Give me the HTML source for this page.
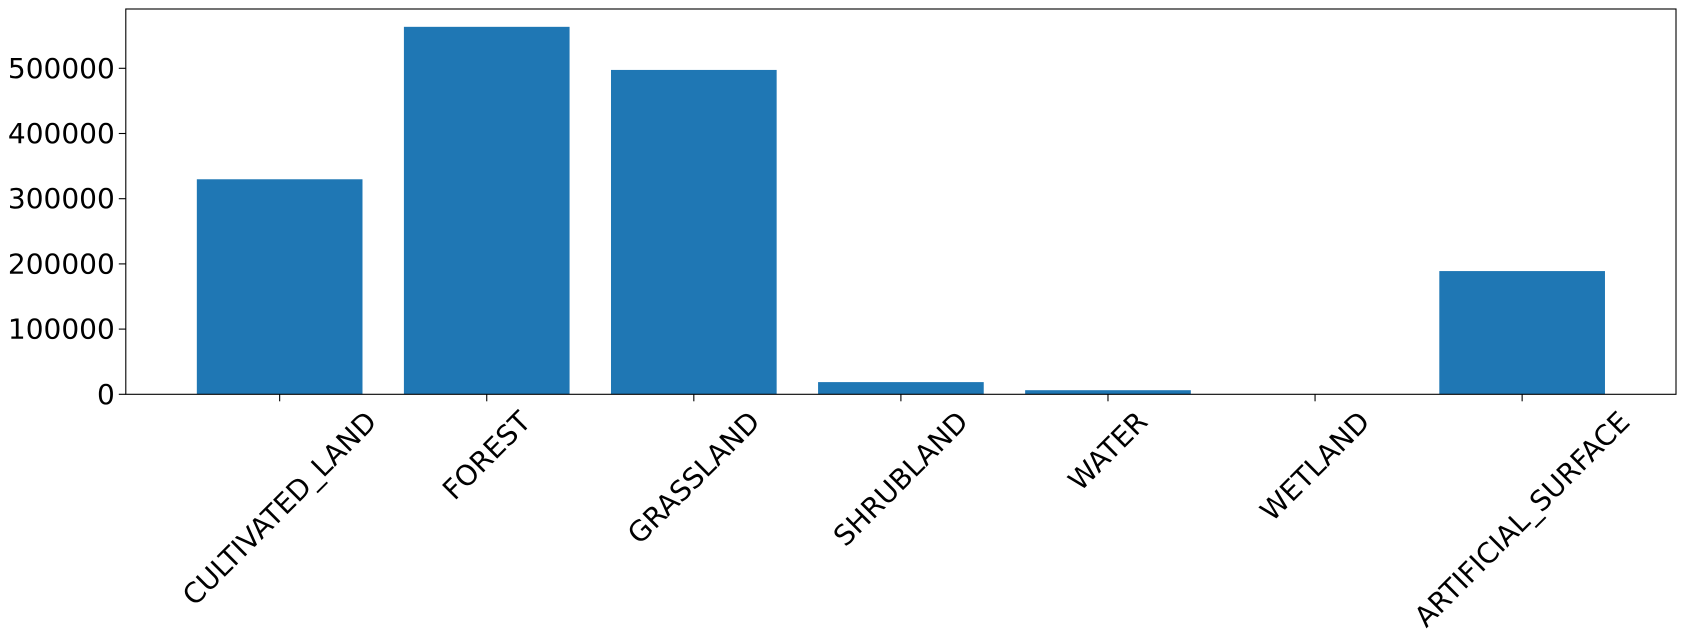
<!DOCTYPE html>
<html><head><meta charset="utf-8"><style>
html,body{margin:0;padding:0;background:#fff;}
svg{display:block;font-family:"DejaVu Sans","Liberation Sans",sans-serif;}
</style></head><body>
<svg id="chart" width="1686" height="637" viewBox="0 0 1686 637" xmlns="http://www.w3.org/2000/svg">
<g id="bars"></g>
<g id="yaxis"></g>
<g id="xaxis"></g>
<rect x="125.8" y="9" width="1550.2" height="385.3" fill="none" stroke="#000" stroke-width="1.1"/>
</svg>
<script>
const categories = ["CULTIVATED_LAND","FOREST","GRASSLAND","SHRUBLAND","WATER","WETLAND","ARTIFICIAL_SURFACE"];
const values = [329800, 563600, 497500, 18700, 6300, 300, 189000];
const yTicks = [0, 100000, 200000, 300000, 400000, 500000];
const yTickLabels = ["0","100000","200000","300000","400000","500000"];

const NS = "http://www.w3.org/2000/svg";
const L = 125.8, R = 1676, T = 9, B = 394.3;
const xMin = -0.743, xMax = 6.743;
const yPerUnit = 326 / 500000;
function xs(i){ return L + (i - xMin) / (xMax - xMin) * (R - L); }
function ys(v){ return B - v * yPerUnit; }
const bw = 0.8 * (xs(1) - xs(0));

const gb = document.getElementById('bars');
categories.forEach((c, i) => {
  const r = document.createElementNS(NS, 'rect');
  r.setAttribute('x', xs(i) - bw / 2);
  r.setAttribute('y', ys(values[i]));
  r.setAttribute('width', bw);
  r.setAttribute('height', Math.max(0, B - ys(values[i])));
  r.setAttribute('fill', '#1f77b4');
  
  
  gb.appendChild(r);
});

const fs = 28;
const gy = document.getElementById('yaxis');
yTicks.forEach((v, k) => {
  const y = ys(v);
  const ln = document.createElementNS(NS, 'line');
  ln.setAttribute('x1', L - 7); ln.setAttribute('x2', L);
  ln.setAttribute('y1', y); ln.setAttribute('y2', y);
  ln.setAttribute('stroke', '#000'); ln.setAttribute('stroke-width', '1.1');
  
  
  gy.appendChild(ln);
  const t = document.createElementNS(NS, 'text');
  t.setAttribute('x', L - 11); t.setAttribute('y', y);
  t.setAttribute('text-anchor', 'end'); t.setAttribute('dominant-baseline', 'central');
  t.setAttribute('font-size', fs);
  t.textContent = yTickLabels[k];
  
  
  gy.appendChild(t);
});

const gx = document.getElementById('xaxis');
categories.forEach((c, i) => {
  const x = xs(i);
  const ln = document.createElementNS(NS, 'line');
  ln.setAttribute('x1', x); ln.setAttribute('x2', x);
  ln.setAttribute('y1', B); ln.setAttribute('y2', B + 7);
  ln.setAttribute('stroke', '#000'); ln.setAttribute('stroke-width', '1.1');
  
  
  gx.appendChild(ln);
  const t = document.createElementNS(NS, 'text');
  t.setAttribute('font-size', fs);
  t.setAttribute('text-anchor', 'middle');
  t.setAttribute('dominant-baseline', 'central');
  t.textContent = c;
  
  
  gx.appendChild(t);
  const w = t.getComputedTextLength();
  const h = fs * 1.05;
  const side = (w + h) * Math.SQRT1_2;
  const cy = B + 12 + side / 2;
  t.setAttribute('x', x); t.setAttribute('y', cy);
  t.setAttribute('transform', 'rotate(-45 ' + x + ' ' + cy + ')');
});
</script>
</body></html>
